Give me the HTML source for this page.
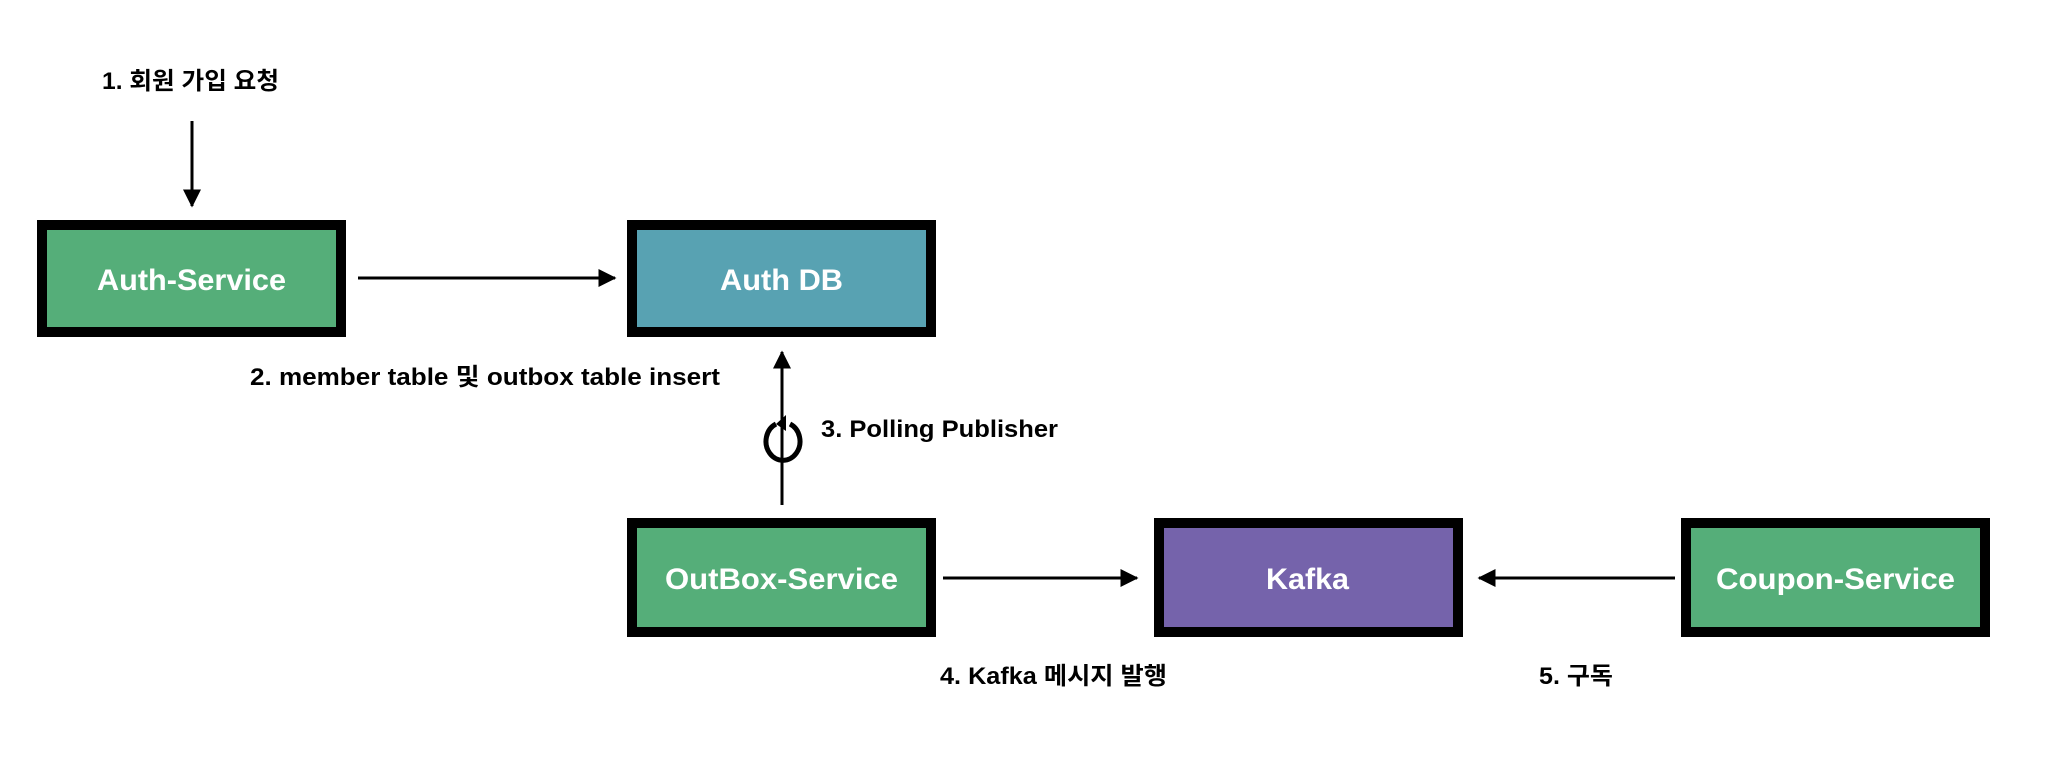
<!DOCTYPE html>
<html><head><meta charset="utf-8"><style>
html,body{margin:0;padding:0;background:#fff;}
svg{display:block}
text{font-family:"Liberation Sans","Noto Sans CJK KR",sans-serif;font-weight:bold;}
</style></head><body>
<svg width="2056" height="770" viewBox="0 0 2056 770" xmlns="http://www.w3.org/2000/svg">
<defs>
<marker id="ah" markerWidth="6" markerHeight="6" refX="5.5" refY="3" orient="auto" markerUnits="strokeWidth">
<path d="M0,0 L6,3 L0,6 z" fill="#000"/>
</marker>
</defs>
<g stroke="#000" stroke-width="10">
<rect x="42" y="225" width="299" height="107" fill="#55AE79"/>
<rect x="632" y="225" width="299" height="107" fill="#58A2B2"/>
<rect x="632" y="523" width="299" height="109" fill="#55AE79"/>
<rect x="1159" y="523" width="299" height="109" fill="#7563AB"/>
<rect x="1686" y="523" width="299" height="109" fill="#55AE79"/>
</g>
<g fill="#fff" font-size="30" lengthAdjust="spacingAndGlyphs">
<text x="97" y="290" textLength="189" lengthAdjust="spacingAndGlyphs">Auth-Service</text>
<text x="720" y="290" textLength="123" lengthAdjust="spacingAndGlyphs">Auth DB</text>
<text x="665" y="589" textLength="233" lengthAdjust="spacingAndGlyphs">OutBox-Service</text>
<text x="1266" y="589" textLength="83" lengthAdjust="spacingAndGlyphs">Kafka</text>
<text x="1716" y="589" textLength="239" lengthAdjust="spacingAndGlyphs">Coupon-Service</text>
</g>
<g stroke="#000" stroke-width="3" fill="none">
<line x1="192" y1="121" x2="192" y2="206" marker-end="url(#ah)"/>
<line x1="358" y1="278" x2="615" y2="278" marker-end="url(#ah)"/>
<line x1="782" y1="505" x2="782" y2="352" marker-end="url(#ah)"/>
<line x1="943" y1="578" x2="1137" y2="578" marker-end="url(#ah)"/>
<line x1="1675" y1="578" x2="1479" y2="578" marker-end="url(#ah)"/>
</g>
<path d="M790,424 A17,19 0 1 1 776,424" fill="none" stroke="#000" stroke-width="5"/>
<path d="M786,415 L776,424 L786,431 z" fill="#000"/>
<g fill="#000" font-size="24">
<text x="102" y="89" textLength="177" lengthAdjust="spacingAndGlyphs">1. 회원 가입 요청</text>
<text x="250" y="385" textLength="470" lengthAdjust="spacingAndGlyphs">2. member table 및 outbox table insert</text>
<text x="821" y="437" textLength="237" lengthAdjust="spacingAndGlyphs">3. Polling Publisher</text>
<text x="940" y="684" textLength="227" lengthAdjust="spacingAndGlyphs">4. Kafka 메시지 발행</text>
<text x="1539" y="684" textLength="74" lengthAdjust="spacingAndGlyphs">5. 구독</text>
</g>
</svg>
</body></html>
